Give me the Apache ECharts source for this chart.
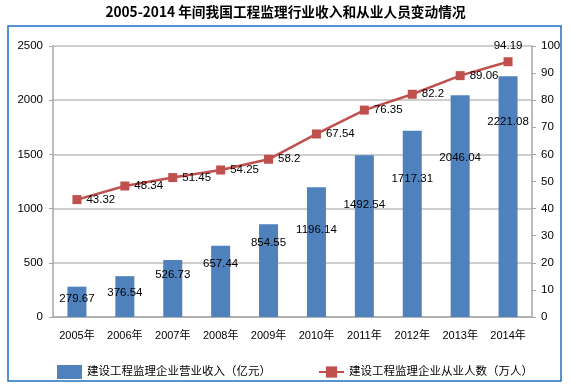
<!DOCTYPE html>
<html><head><meta charset="utf-8">
<script src="https://cdn.jsdelivr.net/npm/echarts@6/dist/echarts.min.js"></script>
<style>html,body{margin:0;padding:0;background:#fff}#c{width:571px;height:388px}</style>
</head><body><div id="c"></div>
<script>
const categories = ['2005年','2006年','2007年','2008年','2009年','2010年','2011年','2012年','2013年','2014年'];
const revenue = [279.67,376.54,526.73,657.44,854.55,1196.14,1492.54,1717.31,2046.04,2221.08];
const employees = [43.32,48.34,51.45,54.25,58.2,67.54,76.35,82.2,89.06,94.19];
const revenueName = '建设工程监理企业营业收入（亿元）';
const employeesName = '建设工程监理企业从业人数（万人）';
const titleText = '2005-2014 年间我国工程监理行业收入和从业人员变动情况';
// label vertical offsets (below bar top) as placed in the original
const barLabelDy = [13,18,16,19,19,43,51,49,64,47];

const font = 'Liberation Sans, Arial, sans-serif';
const cjk = 'Liberation Sans, "Noto Sans CJK SC", sans-serif';
const chart = echarts.init(document.getElementById('c'));
chart.setOption({
  animation: false,
  title: {text: titleText, left: 'center', top: 0,
    textStyle: {fontSize: 13.7, fontWeight: 'bold', color: '#000', fontFamily: '"Noto Sans CJK SC", sans-serif'}},
  graphic: [{type: 'rect', shape: {x: 8, y: 26, width: 553, height: 355},
    style: {fill: 'none', stroke: '#1F6FC0', lineWidth: 1.5}, z: 100}],
  grid: {left: 53, right: 39, top: 46, bottom: 71},
  legend: {left: 52, top: 360, itemGap: 47, itemTextGap: 3,
    textStyle: {fontSize: 11.5, fontFamily: cjk, color: '#000'},
    data: [{name: revenueName, icon: 'rect', itemWidth: 24, itemHeight: 6},
           {name: employeesName, itemWidth: 26, itemHeight: 9}]},
  xAxis: {type: 'category', data: categories,
    axisLine: {lineStyle: {color: '#A6A6A6', width: 1.5}},
    axisTick: {length: 5, lineStyle: {color: '#A6A6A6', width: 1.2}},
    axisLabel: {fontSize: 11, interval: 0, fontFamily: cjk, color: '#000', margin: 13}},
  yAxis: [
    {type: 'value', min: 0, max: 2500, interval: 500,
      axisLine: {show: true, lineStyle: {color: '#A6A6A6', width: 1.5}},
      axisTick: {show: true, length: 4, lineStyle: {color: '#A6A6A6'}},
      splitLine: {lineStyle: {color: '#BEBEBE', width: 1.5}},
      axisLabel: {fontSize: 11.5, fontFamily: font, color: '#000', margin: 10, formatter: v => String(v)}},
    {type: 'value', min: 0, max: 100, interval: 10,
      axisLine: {show: true, lineStyle: {color: '#A6A6A6', width: 1.5}},
      axisTick: {show: true, length: 4, lineStyle: {color: '#A6A6A6'}},
      splitLine: {show: false},
      axisLabel: {fontSize: 11.5, fontFamily: font, color: '#000', margin: 9, formatter: v => String(v)}}
  ],
  series: [
    {name: revenueName, type: 'bar', barWidth: 19, yAxisIndex: 0,
      itemStyle: {color: '#4F81BD'},
      data: revenue.map((v, i) => ({value: v,
        label: {show: true, position: 'insideTop', distance: 0, offset: [0, barLabelDy[i] - 7],
          fontSize: 11.5, fontFamily: font, color: '#000', formatter: p => String(p.value)}}))},
    {name: employeesName, type: 'line', yAxisIndex: 1,
      symbol: 'rect', symbolSize: 9,
      lineStyle: {color: '#C0504D', width: 2.5}, itemStyle: {color: '#C0504D'},
      data: employees.map((v, i) => ({value: v,
        label: {show: true, position: i === employees.length - 1 ? 'top' : 'right', distance: 5,
          fontSize: 11.5, fontFamily: font, color: '#000', formatter: p => String(p.value)}}))}
  ]
});
</script></body></html>
